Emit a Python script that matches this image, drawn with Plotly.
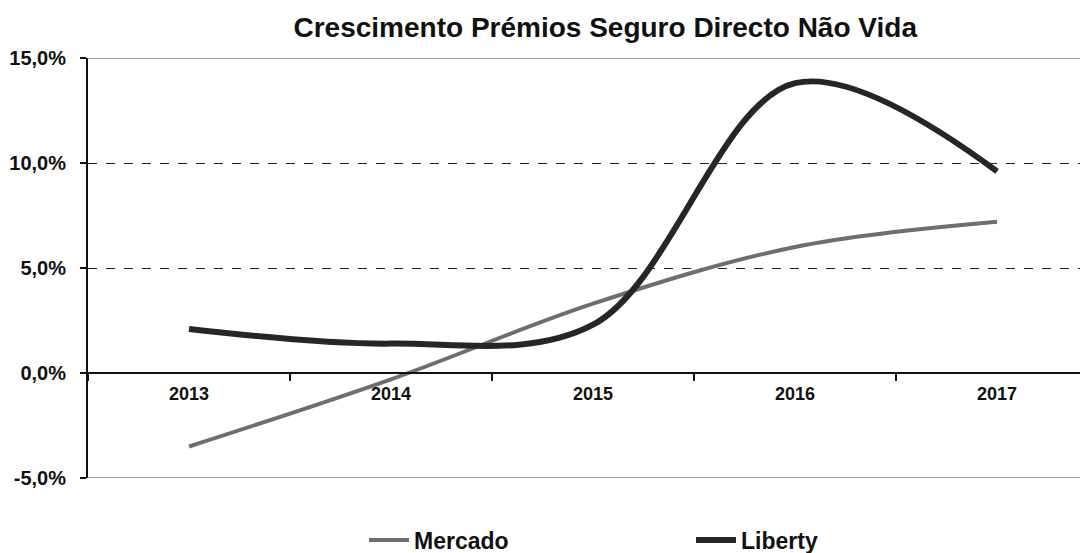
import plotly.graph_objects as go

years = ["2013", "2014", "2015", "2016", "2017"]
mercado = [-3.5, -0.3, 3.3, 6.0, 7.2]
liberty = [2.1, 1.4, 2.3, 13.8, 9.6]
y_ticks = [-5, 0, 5, 10, 15]
y_tick_labels = ["-5,0%", "0,0%", "5,0%", "10,0%", "15,0%"]

FONT = "Liberation Sans, Arial, sans-serif"

fig = go.Figure()
fig.add_trace(go.Scatter(
    x=years, y=mercado, name="<b>Mercado</b>", mode="lines",
    line=dict(color="#6e6e6e", width=4, shape="spline", smoothing=1.0),
))
fig.add_trace(go.Scatter(
    x=years, y=liberty, name="<b>Liberty</b>", mode="lines",
    line=dict(color="#262626", width=6, shape="spline", smoothing=1.0),
))

# top and bottom border lines (solid gray)
for yv in (y_ticks[0], y_ticks[-1]):
    fig.add_shape(type="line", xref="paper", yref="y", x0=0, x1=1, y0=yv, y1=yv,
                  line=dict(color="#9a9a9a", width=2), layer="below")

fig.update_layout(
    width=1080, height=545,
    margin=dict(l=80, r=0, t=50, b=75, autoexpand=False),
    paper_bgcolor="white", plot_bgcolor="white",
    title=dict(text="<b>Crescimento Prémios Seguro Directo Não Vida</b>",
               x=0.553, xanchor="center", y=0.965, yanchor="middle",
               font=dict(family=FONT, size=28, color="#111")),
    font=dict(family=FONT, color="#111"),
    showlegend=True,
    legend=dict(orientation="h", x=0.276, xanchor="left", y=-0.148, yanchor="middle",
                entrywidth=272, entrywidthmode="pixels", itemwidth=40,
                font=dict(family=FONT, size=23, color="#111")),
    xaxis=dict(
        type="category", range=[-0.5, 4.45],
        anchor="free", position=0.25, automargin=False,
        showline=True, linecolor="#111", linewidth=2,
        ticks="outside", tickson="boundaries", ticklen=7, tickcolor="#111", tickwidth=2,
        showgrid=False, ticklabelstandoff=4,
        tickfont=dict(family=FONT, size=18, color="#111", weight="bold"),
    ),
    yaxis=dict(
        range=[-5, 15], tickvals=y_ticks, ticktext=y_tick_labels, automargin=False,
        showline=True, linecolor="#111", linewidth=2,
        ticks="outside", ticklen=6, tickcolor="#111", tickwidth=2,
        showgrid=True, gridcolor="#222", gridwidth=1.3, griddash="dash",
        zeroline=False, ticklabelstandoff=10,
        tickfont=dict(family=FONT, size=20, color="#111", weight="bold"),
    ),
)
fig.write_html("out.html")
